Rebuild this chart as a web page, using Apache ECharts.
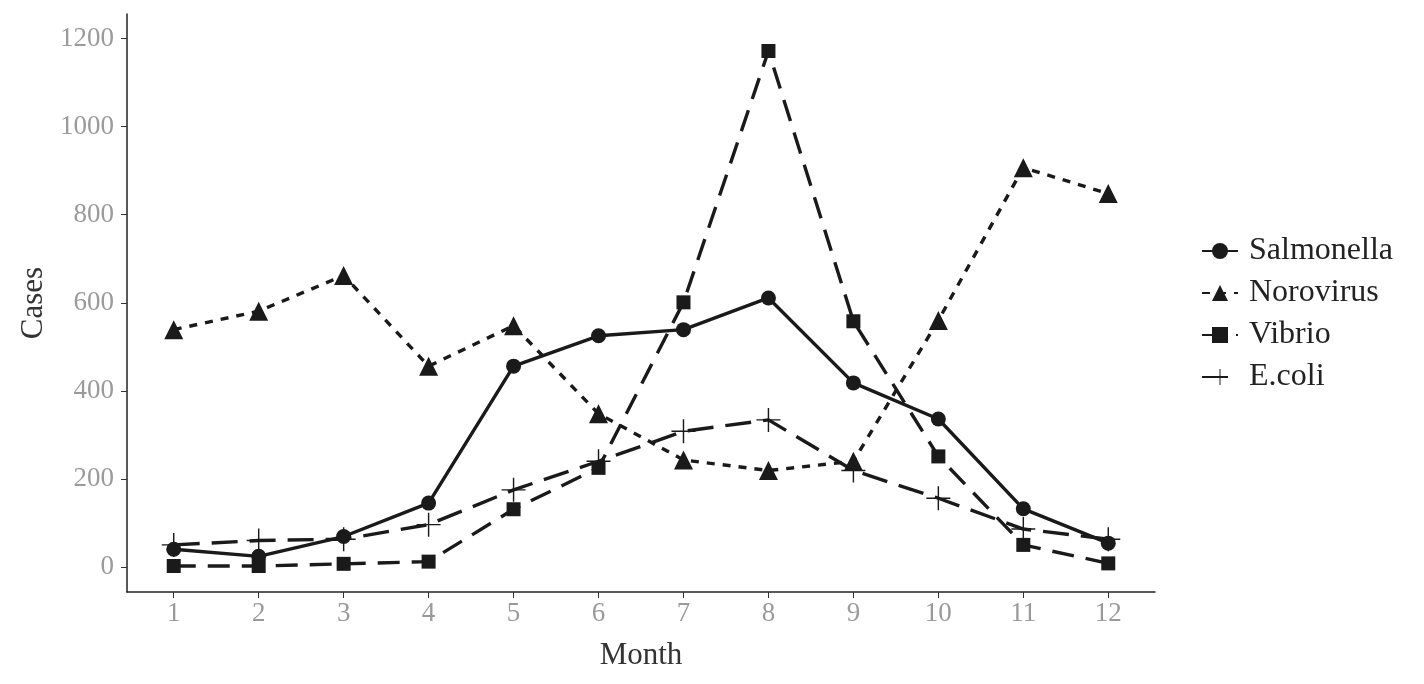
<!DOCTYPE html>
<html>
<head>
<meta charset="utf-8">
<script src="https://cdn.jsdelivr.net/npm/echarts@6/dist/echarts.min.js"></script>
<style>
  html, body { margin: 0; padding: 0; background: #fff; }
  #chart { width: 1424px; height: 684px; }
</style>
</head>
<body>
<div id="chart"></div>
<script>
  var months = [1, 2, 3, 4, 5, 6, 7, 8, 9, 10, 11, 12];
  var yTicks = [0, 200, 400, 600, 800, 1000, 1200];

  var salmonella = [40, 24, 69, 145, 456, 525, 539, 611, 418, 336, 132, 54];
  var norovirus = [539, 581, 662, 456, 548, 348, 243, 219, 240, 560, 907, 848];
  var vibrio = [2, 2, 7, 12, 131, 225, 601, 1172, 558, 251, 50, 8];
  var ecoli = [50, 60, 63, 96, 175, 240, 308, 334, 219, 156, 86, 63];

  var font = 'Liberation Serif';
  var ink = '#1a1a1a';
  var plus = 'path://M0,9.4h20v1.2h-20z M9.4,0h1.2v20h-1.2z';

  function pairs(vals) {
    return months.map(function (m, i) { return [m, vals[i]]; });
  }

  function line(name, vals, symbol, size, dash) {
    return {
      name: name,
      type: 'line',
      data: pairs(vals),
      symbol: symbol,
      symbolSize: size,
      showSymbol: true,
      lineStyle: { color: ink, width: 3.4, type: dash },
      itemStyle: { color: ink, borderWidth: 0 },
      emphasis: { disabled: true },
      animation: false
    };
  }

  var chart = echarts.init(document.getElementById('chart'));
  chart.setOption({
    backgroundColor: '#fff',
    grid: { left: 127, right: 269, top: 14, bottom: 92 },
    legend: {
      orient: 'vertical',
      left: 1196,
      top: 230,
      itemWidth: 36,
      itemHeight: 20,
      itemGap: 10,
      textStyle: { fontFamily: font, fontSize: 32, color: '#222', lineHeight: 30, padding: [0, 0, 0, 6] },
      data: ['Salmonella', 'Norovirus', 'Vibrio', 'E.coli']
    },
    xAxis: {
      type: 'value',
      min: 0.45,
      max: 12.55,
      name: 'Month',
      nameLocation: 'middle',
      nameGap: 48,
      nameTextStyle: { fontFamily: font, fontSize: 31, color: '#333' },
      splitLine: { show: false },
      axisLine: { show: true, onZero: false, lineStyle: { color: '#222', width: 1.5 } },
      axisTick: { show: true, length: 6, customValues: months, lineStyle: { color: '#333' } },
      axisLabel: { customValues: months, fontFamily: font, fontSize: 27, color: '#9a9a9a', margin: 8 }
    },
    yAxis: {
      type: 'value',
      min: -57,
      max: 1256,
      name: 'Cases',
      nameLocation: 'middle',
      nameGap: 70,
      nameTextStyle: { fontFamily: font, fontSize: 31, color: '#333' },
      splitLine: { show: false },
      axisLine: { show: true, onZero: false, lineStyle: { color: '#222', width: 1.5 } },
      axisTick: { show: true, length: 6, customValues: yTicks, lineStyle: { color: '#333' } },
      axisLabel: {
        customValues: yTicks, fontFamily: font, fontSize: 27, color: '#9a9a9a', margin: 13,
        formatter: function (v) { return String(v); }
      }
    },
    series: [
      line('Salmonella', salmonella, 'circle', 15, 'solid'),
      line('Norovirus', norovirus, 'triangle', 19, [8, 8]),
      line('Vibrio', vibrio, 'rect', 14, [22, 12]),
      line('E.coli', ecoli, plus, 24, [26, 12])
    ]
  });
</script>
</body>
</html>
